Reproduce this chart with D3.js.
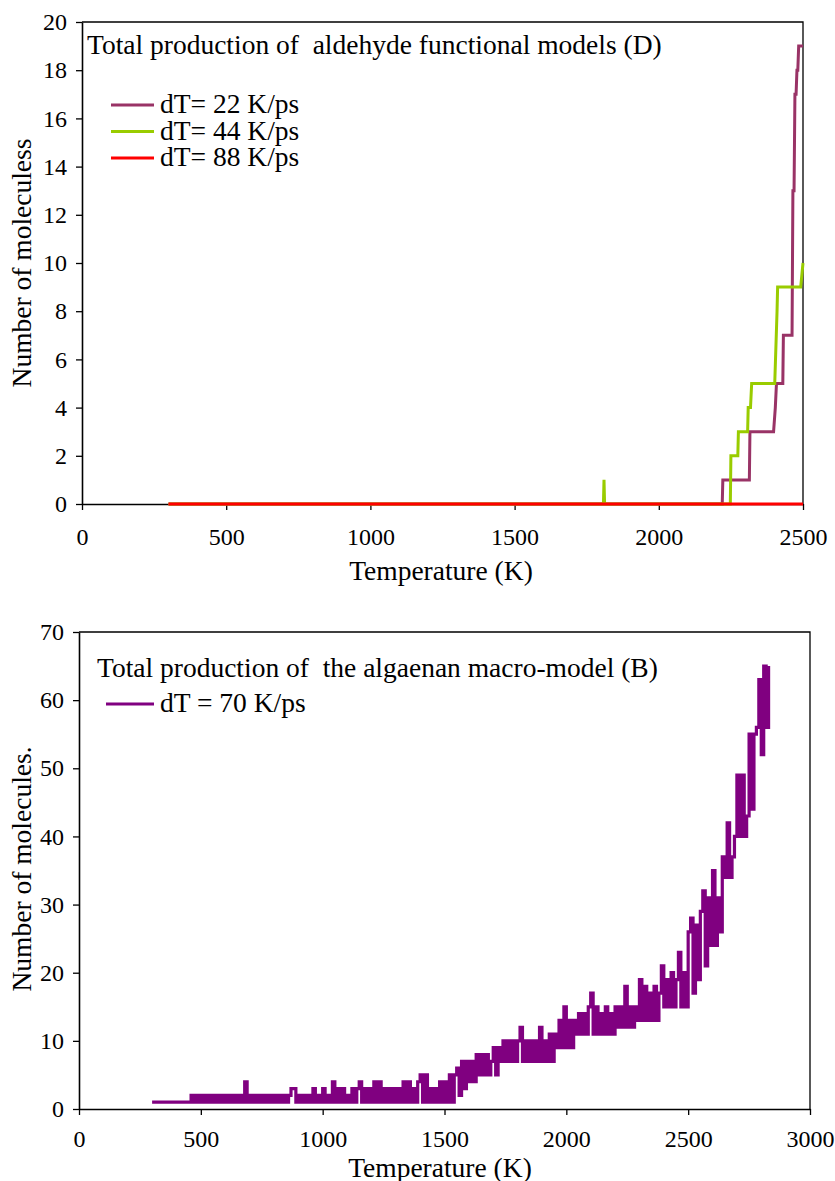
<!DOCTYPE html>
<html>
<head>
<meta charset="utf-8">
<script src="https://cdn.jsdelivr.net/npm/d3@7"></script>
<style>
  body { margin: 0; background: #fff; }
  svg text { font-family: "Liberation Serif", "DejaVu Serif", serif; fill: #000; white-space: pre; }
</style>
</head>
<body>
<script>
// ---- top chart: aldehyde functional models (D) ----
var temps22 = [300, 2220, 2222, 2314, 2316, 2398, 2404, 2408, 2430, 2432, 2462, 2465, 2469, 2472, 2476, 2479, 2482, 2485, 2500];
var vals22  = [0,   0,    1,    1,    3,    3,    4,    5,    5,    7,    7,    13,   13,   17,   17,   18,   18,   19,   19];
var temps44 = [300, 1808, 1810, 1812, 2248, 2250, 2274, 2276, 2308, 2310, 2318, 2322, 2402, 2410, 2412, 2492, 2500];
var vals44  = [0,   0,    1,    0,    0,    2,    2,    3,    3,    4,    4,    5,    5,    8,    9,    9,    10];
var temps88 = [300, 2500];
var vals88  = [0, 0];
var topLegend = ["dT= 22 K/ps", "dT= 44 K/ps", "dT= 88 K/ps"];
var topXTicks = [0, 500, 1000, 1500, 2000, 2500];
var topYTicks = [0, 2, 4, 6, 8, 10, 12, 14, 16, 18, 20];

// ---- bottom chart: algaenan macro-model (B), values every 10 K from 300 K ----
var tempStartB = 300, tempStepB = 10;
var valsB = [
  1,1,1,1,1,1,1,1,1,1,        // 300
  1,1,1,1,1,1,2,1,2,1,        // 400
  2,1,2,1,2,1,2,1,2,1,        // 500
  2,1,2,1,2,1,2,1,4,1,        // 600
  2,1,2,1,2,1,2,1,2,1,        // 700
  2,1,2,1,2,1,2,3,3,1,        // 800
  2,1,2,1,2,1,3,1,2,1,        // 900
  3,1,2,1,4,1,3,1,3,1,        // 1000
  2,1,3,1,3,4,1,3,1,3,        // 1100
  1,4,1,4,1,3,1,3,1,3,        // 1200
  1,3,1,4,1,4,1,3,1,4,        // 1300
  5,1,5,1,3,1,3,1,4,1,        // 1400
  4,1,5,1,5,6,2,7,3,7,        // 1500
  4,7,4,8,5,8,5,8,5,7,        // 1600
  9,5,9,7,10,7,10,7,10,7,     // 1700
  10,12,7,10,7,10,7,10,7,12,  // 1800
  7,10,7,11,7,11,9,13,9,15,   // 1900
  9,13,9,13,11,14,11,14,11,15,// 2000
  17,11,15,11,14,11,15,11,14,11, // 2100
  15,12,15,12,18,12,15,12,15,13, // 2200
  19,13,18,13,17,13,18,13,17,21, // 2300
  15,19,15,20,15,19,23,15,20,15, // 2400
  26,28,17,27,19,29,32,21,31,24, // 2500
  35,24,31,26,37,34,42,34,37,40, // 2600
  49,40,49,40,43,55,44,55,56,63, // 2700
  52,65,56,65                    // 2800
];
var bottomLegend = ["dT = 70 K/ps"];
var bottomXTicks = [0, 500, 1000, 1500, 2000, 2500, 3000];
var bottomYTicks = [0, 10, 20, 30, 40, 50, 60, 70];

var colors = ["#993366", "#99cc00", "#ff0000"];
var colorB = "#800080";
var serif = "'Liberation Serif', 'DejaVu Serif', serif";

var svg = d3.select("body").append("svg")
  .attr("width", 835)
  .attr("height", 1181);

function frame(g, x, y, xTicks, yTicks, pad) {
  var x0 = x.range()[0], x1 = x.range()[1];
  var y0 = y.range()[0], y1 = y.range()[1];
  // plot box top and right edges
  g.append("path")
    .attr("d", "M" + x0 + "," + y1 + "H" + x1 + "V" + y0)
    .attr("fill", "none").attr("stroke", "#000").attr("stroke-width", 1.3);

  var xAxis = d3.axisBottom(x).tickValues(xTicks).tickFormat(d3.format("d"))
    .tickSize(6).tickPadding(pad).tickSizeOuter(0);
  var yAxis = d3.axisLeft(y).tickValues(yTicks).tickFormat(d3.format("d"))
    .tickSize(6).tickPadding(9).tickSizeOuter(0);

  var gx = g.append("g").attr("transform", "translate(0," + y0 + ")").call(xAxis);
  var gy = g.append("g").attr("transform", "translate(" + x0 + ",0)").call(yAxis);
  [gx, gy].forEach(function(a) {
    a.attr("font-family", serif);
    a.select(".domain").attr("stroke-width", 1.6);
    a.selectAll(".tick line").attr("stroke-width", 1.3);
    a.selectAll(".tick text").style("font-size", "24px").style("font-family", serif);
  });
}

function label(g, x, y, txt, anchor, transform) {
  var t = g.append("text")
    .attr("x", x).attr("y", y)
    .attr("font-family", serif)
    .style("font-family", serif)
    .style("font-size", "27.5px")
    .attr("text-anchor", anchor || "start")
    .text(txt);
  if (transform) t.attr("transform", transform);
  return t;
}

// ---- top chart ----
var gTop = svg.append("g");
var xTop = d3.scaleLinear().domain([0, 2500]).range([82, 803]);
var yTop = d3.scaleLinear().domain([0, 20]).range([504, 22]);
frame(gTop, xTop, yTop, topXTicks, topYTicks, 18);

var lineTop = d3.line()
  .x(function(d) { return xTop(d[0]); })
  .y(function(d) { return yTop(d[1]); });

var topSeries = [
  d3.zip(temps22, vals22),
  d3.zip(temps44, vals44),
  d3.zip(temps88, vals88)
];
topSeries.forEach(function(s, i) {
  gTop.append("path")
    .datum(s)
    .attr("d", lineTop)
    .attr("fill", "none")
    .attr("stroke", colors[i])
    .attr("stroke-width", 3);
});

label(gTop, 87, 54, "Total production of  aldehyde functional models (D)");

topLegend.forEach(function(t, i) {
  var ly = 105 + i * 26.5;
  gTop.append("line").attr("x1", 111).attr("x2", 154).attr("y1", ly).attr("y2", ly)
    .attr("stroke", colors[i]).attr("stroke-width", 3);
  label(gTop, 160, ly + 8, t);
});

label(gTop, 441, 580, "Temperature (K)", "middle");
label(gTop, 0, 0, "Number of moleculess", "middle", "translate(31,263) rotate(-90)");

// ---- bottom chart ----
var gBot = svg.append("g");
var xBot = d3.scaleLinear().domain([0, 3000]).range([79, 810]);
var yBot = d3.scaleLinear().domain([0, 70]).range([1109, 632]);
frame(gBot, xBot, yBot, bottomXTicks, bottomYTicks, 15);

var lineBot = d3.line()
  .curve(d3.curveStepAfter)
  .x(function(d, i) { return xBot(tempStartB + i * tempStepB); })
  .y(function(d) { return yBot(d); });

gBot.append("path")
  .datum(valsB)
  .attr("d", lineBot)
  .attr("fill", "none")
  .attr("stroke", colorB)
  .attr("stroke-width", 3.2);

label(gBot, 97, 677, "Total production of  the algaenan macro-model (B)");

bottomLegend.forEach(function(t, i) {
  var ly = 704 + i * 26.5;
  gBot.append("line").attr("x1", 106).attr("x2", 154).attr("y1", ly).attr("y2", ly)
    .attr("stroke", colorB).attr("stroke-width", 3.2);
  label(gBot, 160, ly + 8, t);
});

label(gBot, 440, 1177, "Temperature (K)", "middle");
label(gBot, 0, 0, "Number of molecules.", "middle", "translate(31,869) rotate(-90)");
</script>
</body>
</html>
